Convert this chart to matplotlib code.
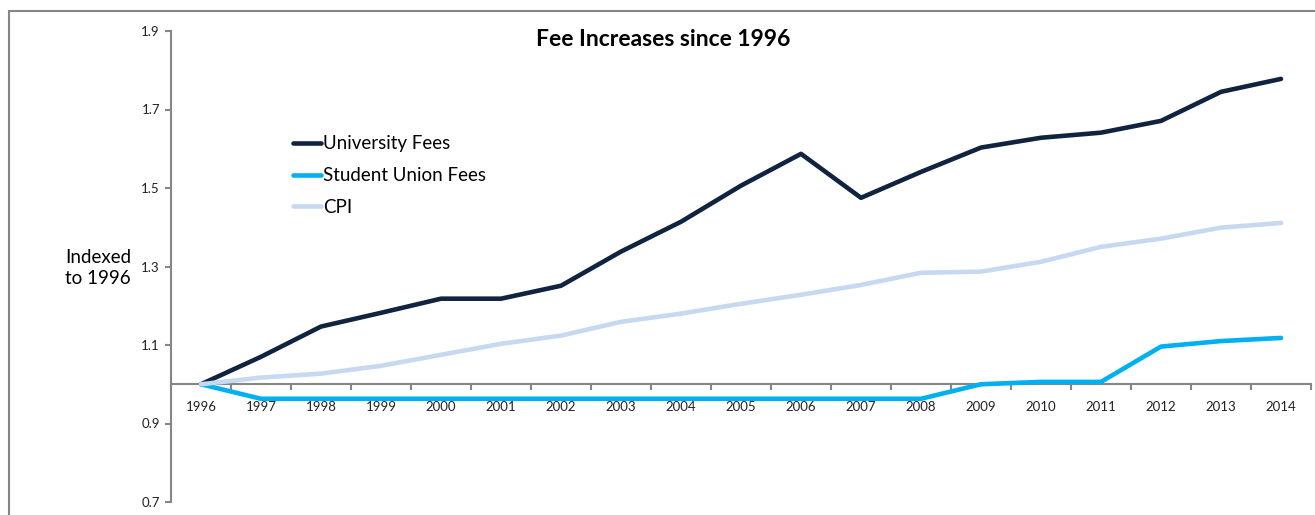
import matplotlib
matplotlib.use("Agg")
import matplotlib.pyplot as plt
from matplotlib.patches import Rectangle

plt.rcParams["font.family"] = ["Lato", "DejaVu Sans"]

years = [str(y) for y in range(1996, 2015)]
university_fees = [1.0, 1.07, 1.147, 1.182, 1.218, 1.218, 1.251, 1.338, 1.414, 1.506,
                   1.587, 1.475, 1.541, 1.603, 1.628, 1.641, 1.671, 1.745, 1.778]
union_fees = [1.0, 0.963, 0.963, 0.963, 0.963, 0.963, 0.963, 0.963, 0.963, 0.963,
              0.963, 0.963, 0.963, 1.0, 1.006, 1.006, 1.096, 1.11, 1.118]
cpi = [1.0, 1.017, 1.027, 1.047, 1.075, 1.103, 1.124, 1.159, 1.18, 1.205,
       1.228, 1.253, 1.284, 1.287, 1.312, 1.35, 1.371, 1.399, 1.411]

series = [
    ("University Fees", university_fees, "#10243f"),
    ("Student Union Fees", union_fees, "#00b0f0"),
    ("CPI", cpi, "#c6d9f1"),
]

W, H = 1315, 515
fig = plt.figure(figsize=(W / 100, H / 100), dpi=100)
ax = fig.add_axes([171 / W, 1 - 502 / H, (1311 - 171) / W, (502 - 31) / H])

x = list(range(len(years)))
for name, vals, color in series:
    ax.plot(x, vals, color=color, lw=3.3, label=name, solid_capstyle="round", zorder=3)

grey = "#868686"
ax.set_xlim(-0.5, len(years) - 0.5)
ax.set_ylim(0.7, 1.9)
ax.set_yticks([0.7, 0.9, 1.1, 1.3, 1.5, 1.7, 1.9])
ax.set_yticklabels(["0.7", "0.9", "1.1", "1.3", "1.5", "1.7", "1.9"])

for s in ["top", "right"]:
    ax.spines[s].set_visible(False)
ax.spines["bottom"].set_position(("data", 1.0))
for s in ["left", "bottom"]:
    ax.spines[s].set_color(grey)
    ax.spines[s].set_linewidth(1.5)

ax.set_xticks(x)
ax.set_xticklabels(years)
ax.set_xticks([i - 0.5 for i in range(len(years) + 1)], minor=True)
ax.tick_params(axis="x", which="major", length=0, pad=12, labelsize=9.5, labelcolor="#222222")
ax.tick_params(axis="x", which="minor", length=4, width=1.5, color=grey, direction="out")
ax.tick_params(axis="y", length=4, width=1.5, color=grey, labelsize=9.5, labelcolor="#222222", pad=4)

fig.text(663 / W, 1 - 40 / H, "Fee Increases since 1996", ha="center", va="center",
         fontsize=16.5, fontweight="bold")
fig.text(98 / W, 1 - 268 / H, "Indexed\nto 1996", ha="center", va="center",
         fontsize=13.5, multialignment="center", linespacing=1.25)

ax.legend(loc="upper left", bbox_to_anchor=((285 - 171) / (1311 - 171), (502 - 128) / (502 - 31)),
          frameon=False, fontsize=13.5, handlelength=1.5, handletextpad=0.15,
          labelspacing=0.78, borderaxespad=0)

# chart frame
fig.add_artist(Rectangle((9 / W, -0.1), 1.2, 1.1 - 11 / H, transform=fig.transFigure,
                         fill=False, edgecolor=grey, lw=1.5))

fig.savefig("out.png", dpi=100)
